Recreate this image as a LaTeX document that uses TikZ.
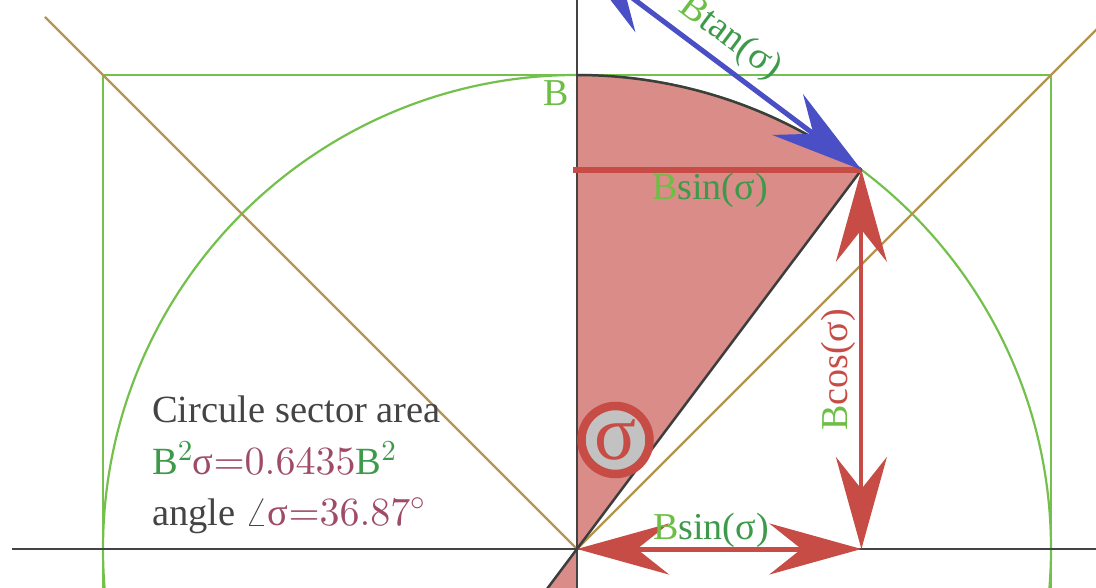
\RequirePackage{fix-cm}
\documentclass[tikz,border=0pt]{standalone}
\usepackage[no-math]{fontspec}
\setmainfont{Liberation Serif}
\usetikzlibrary{arrows.meta}
\DeclareFontShape{OT1}{cmr}{m}{n}{<->cmr10}{}
\DeclareFontShape{OMS}{cmsy}{m}{n}{<->cmsy10}{}
\DeclareMathSizes{38.5}{40}{29}{21}
\definecolor{redA}{HTML}{C64C45}
\definecolor{sectorfill}{HTML}{D98C88}
\definecolor{blueA}{HTML}{4A4FC6}
\definecolor{greenL}{HTML}{74C04C}
\definecolor{greenT}{HTML}{6DBE45}
\definecolor{greenD}{HTML}{3C9A4A}
\definecolor{tanA}{HTML}{B39550}
\definecolor{darkA}{HTML}{444444}
\definecolor{purpleA}{HTML}{9E4A68}
\definecolor{grayfill}{HTML}{C2C2C2}
\tikzset{
  bt/.tip={Stealth[length=92pt,width=51pt,inset=32pt]},
  greenline/.style={draw=greenL,line width=2.2pt},
  tanline/.style={draw=tanA,line width=2.2pt},
  axisline/.style={draw=darkA,line width=2.5pt},
  edgeline/.style={draw=darkA!90!black,line width=2.5pt},
  redarrow/.style={draw=redA,fill=redA,line width=4.5pt,bt-bt},
  bluearrow/.style={draw=blueA,fill=blueA,line width=5pt,bt-bt},
  lbl/.style={font=\fontsize{38}{44}\selectfont,inner sep=0pt},
  blocktext/.style={font=\fontsize{38.5}{44}\selectfont,inner sep=0pt,anchor=base west,text=darkA},
  sigc/.style={circle,draw=redA,line width=8.5pt,fill=grayfill,minimum size=68pt,inner sep=0pt,
    text=redA,font=\fontsize{78}{80}\selectfont}
}
\begin{document}
\begin{tikzpicture}[x=1pt,y=1pt]
\useasboundingbox (0,0) rectangle (1096,587);
\clip (0,0) rectangle (1096,587);
% key points
\coordinate (O) at (577,38);
\coordinate (T) at (577,512);
\coordinate (P) at (861.4,417.2);
\coordinate (Q) at (577,630.5);
\coordinate (S) at (861.4,38);
\coordinate (H) at (573,417.2);
\coordinate (Ob) at (534.3,-18.9);
\coordinate (Vb) at (577,-18.9);
\coordinate (Vt) at (577,600);
\coordinate (Al) at (12,38);
\coordinate (Ar) at (1110,38);
\coordinate (Dl) at (45,570);
\coordinate (Dr) at (1109,570);
% sector fill
\fill[sectorfill] (O) -- (T) arc[start angle=90,end angle=53.13,radius=474pt] -- cycle;
\fill[sectorfill] (O) -- (Vb) -- (Ob) -- cycle;
% green square and circle
\draw[greenline] (103,-20) -- (103,512) -- (1051,512) -- (1051,-20);
\draw[greenline] (O) circle[radius=474pt];
% diagonals
\draw[tanline] (Dl) -- (O) -- (Dr);
% axes
\draw[axisline] (Al) -- (Ar);
\draw[axisline] (Vb) -- (Vt);
% sector edges
\draw[edgeline] (T) arc[start angle=90,end angle=53.13,radius=474pt];
\draw[edgeline] (P) -- (Ob);
% Bsin line
\draw[draw=redA,line width=6pt] (H) -- (P);
% arrows
\draw[redarrow,line width=5pt] (O) -- (S);
\draw[redarrow,line width=4pt] (P) -- (S);
\draw[bluearrow] (Q) -- (P);
% labels
\node[lbl,text=greenT] (lB) at (556,494) {B};
\node[lbl] (lsin1) at (710,397) {\textcolor{greenT}{B}\textcolor{greenD}{sin(σ)}};
\node[lbl] (lsin2) at (711,57) {\textcolor{greenT}{B}\textcolor{greenD}{sin(σ)}};
\node[lbl,rotate=90] (lcos) at (838,217) {\textcolor{greenT}{B}\textcolor{redA}{cos(σ)}};
\node[lbl,rotate=-36.87] (ltan) at (730,549) {\textcolor{greenT}{B}\textcolor{greenD}{tan(σ)}};
\node[sigc] (sig) at (615.5,147) {σ};
% text block
\node[blocktext] (t1) at (152,164) {Circule sector area};
\node[blocktext] (t2) at (152,112) {\textcolor{greenD}{B$^2$}\textcolor{purpleA}{σ${=}0.6435$}\textcolor{greenD}{B$^2$}};
\node[blocktext] (t3) at (152,62) {angle $\angle$\textcolor{purpleA}{σ${=}36.87^\circ$}};
\end{tikzpicture}
\end{document}
